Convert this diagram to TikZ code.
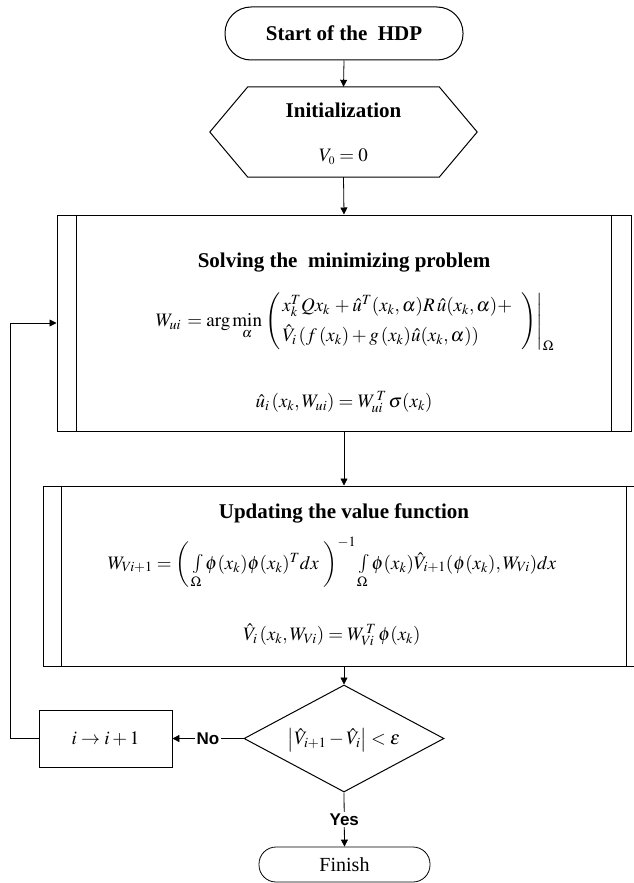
\documentclass[tikz,border=0pt]{standalone}
\usepackage{mathptmx}
\usepackage{fontspec}
\setmainfont{Liberation Serif}
\newfontfamily\arialfont{Liberation Sans}
\usetikzlibrary{arrows.meta,calc,shapes.geometric}
\begin{document}
\begin{tikzpicture}[x=1pt,y=-1pt,
  shapeline/.style={draw, line width=1pt},
  conn/.style={line width=0.8pt},
  arr/.style={conn, -{Triangle[length=7pt,width=7pt]}},
  term/.style={shapeline, rounded corners=17pt, inner sep=0pt},
  titletext/.style={inner sep=0pt, font=\fontsize{21}{25}\selectfont\bfseries},
  mathtext/.style={inner sep=0pt, font=\fontsize{19}{23}\selectfont},
  yn/.style={fill=white, inner sep=2pt, font=\arialfont\fontsize{17}{20}\selectfont\bfseries},
  procbox/.style={shapeline, inner sep=0pt}
]
\useasboundingbox (0,0) rectangle (633,883);

% start
\node[term, rounded corners=26pt, minimum width=238pt, minimum height=53pt] (start) at (344,33.5) {};
\node[titletext] (startT) at (344,33.5) {Start of the\ \ HDP};

% initialization hexagon
\node[inner sep=0pt, minimum width=267pt, minimum height=90pt] (init) at (343.5,132) {};
\draw[shapeline] (init.west) -- ($(init.north west)+(38,0)$) -- ($(init.north east)+(-38,0)$)
  -- (init.east) -- ($(init.south east)+(-38,0)$) -- ($(init.south west)+(38,0)$) -- cycle;
\node[titletext] (initT) at (343.5,110) {Initialization};
\node[mathtext] (v0) at (343.5,157) {$V_{\scriptscriptstyle 0} = 0$};

% solving box
\node[procbox, minimum width=574pt, minimum height=216pt] (solve) at (344,323) {};
\draw[shapeline] ($(solve.north west)+(20,0)$) -- ($(solve.south west)+(20,0)$);
\draw[shapeline] ($(solve.north east)+(-20,0)$) -- ($(solve.south east)+(-20,0)$);
\node[titletext] (solveT) at (344,263) {Solving the\ \ minimizing problem};
\node[mathtext] (wui) at (355,322) {$W_{ui} \,=\arg\min\limits_{\alpha}\left.\left(\begin{array}{@{\,}l@{}}
  x_k^T Q x_k \,+\hat u^T(x_k,\alpha)R\,\hat u(x_k,\alpha) + \\[7pt]
  \hat V_i\,(f\,(x_k) + g\,(x_k)\hat u(x_k,\alpha))
  \end{array}\ \ \right)\right|_{\Omega}$};
\node[mathtext] (uhat) at (344,402) {$\hat u_i\,(x_k,W_{ui}) = W_{ui}^{\,T}\,\sigma(x_k)$};

% updating box
\node[procbox, minimum width=602pt, minimum height=180pt] (update) at (344,576) {};
\draw[shapeline] ($(update.north west)+(19,0)$) -- ($(update.south west)+(19,0)$);
\draw[shapeline] ($(update.north east)+(-19,0)$) -- ($(update.south east)+(-19,0)$);
\node[titletext] (updateT) at (344,513) {Updating the value function};
\node[mathtext] (wvi) at (332,563) {$W_{Vi+1} = \left(\,\int\limits_{\Omega}\phi(x_k)\phi(x_k)^T dx\ \right)^{-1}\int\limits_{\Omega}\phi(x_k)\hat V_{i+1}(\phi(x_k),W_{Vi})dx$};
\node[mathtext] (vhat) at (332,635) {$\hat V_i\,(x_k,W_{Vi}) = W_{Vi}^{\,T}\,\phi(x_k)$};

% decision
\node[shape=diamond, shapeline, inner sep=0pt, minimum width=200pt, minimum height=107pt] (dec) at (344,738.5) {};
\node[mathtext] (decT) at (344,740) {$\left|\hat V_{i+1} - \hat V_i\right| < \varepsilon$};

% increment
\node[procbox, line width=0.8pt, minimum width=133pt, minimum height=57pt] (inc) at (105.5,738.5) {};
\node[mathtext] (incT) at (105.5,738.5) {$i \to i+1$};

% finish
\node[term, line width=0.8pt, minimum width=171pt, minimum height=35pt, font=\fontsize{20}{24}\selectfont] (finish) at (344.5,864.5) {Finish};

% connectors
\draw[arr] (start.south) -- (init.north);
\draw[arr] (init.south) -- (solve.north);
\draw[arr] (solve.south) -- (update.north);
\draw[arr] (update.south) -- (dec.north);
\draw[arr] (dec.west) -- node[yn] (no) {No} (inc.east);
\draw[arr] (dec.south) -- node[yn] (yes) {Yes} (finish.north);
\coordinate (back) at (10,738.5);
\draw[arr] (inc.west) -- (back) |- (solve.west);
\end{tikzpicture}
\end{document}
